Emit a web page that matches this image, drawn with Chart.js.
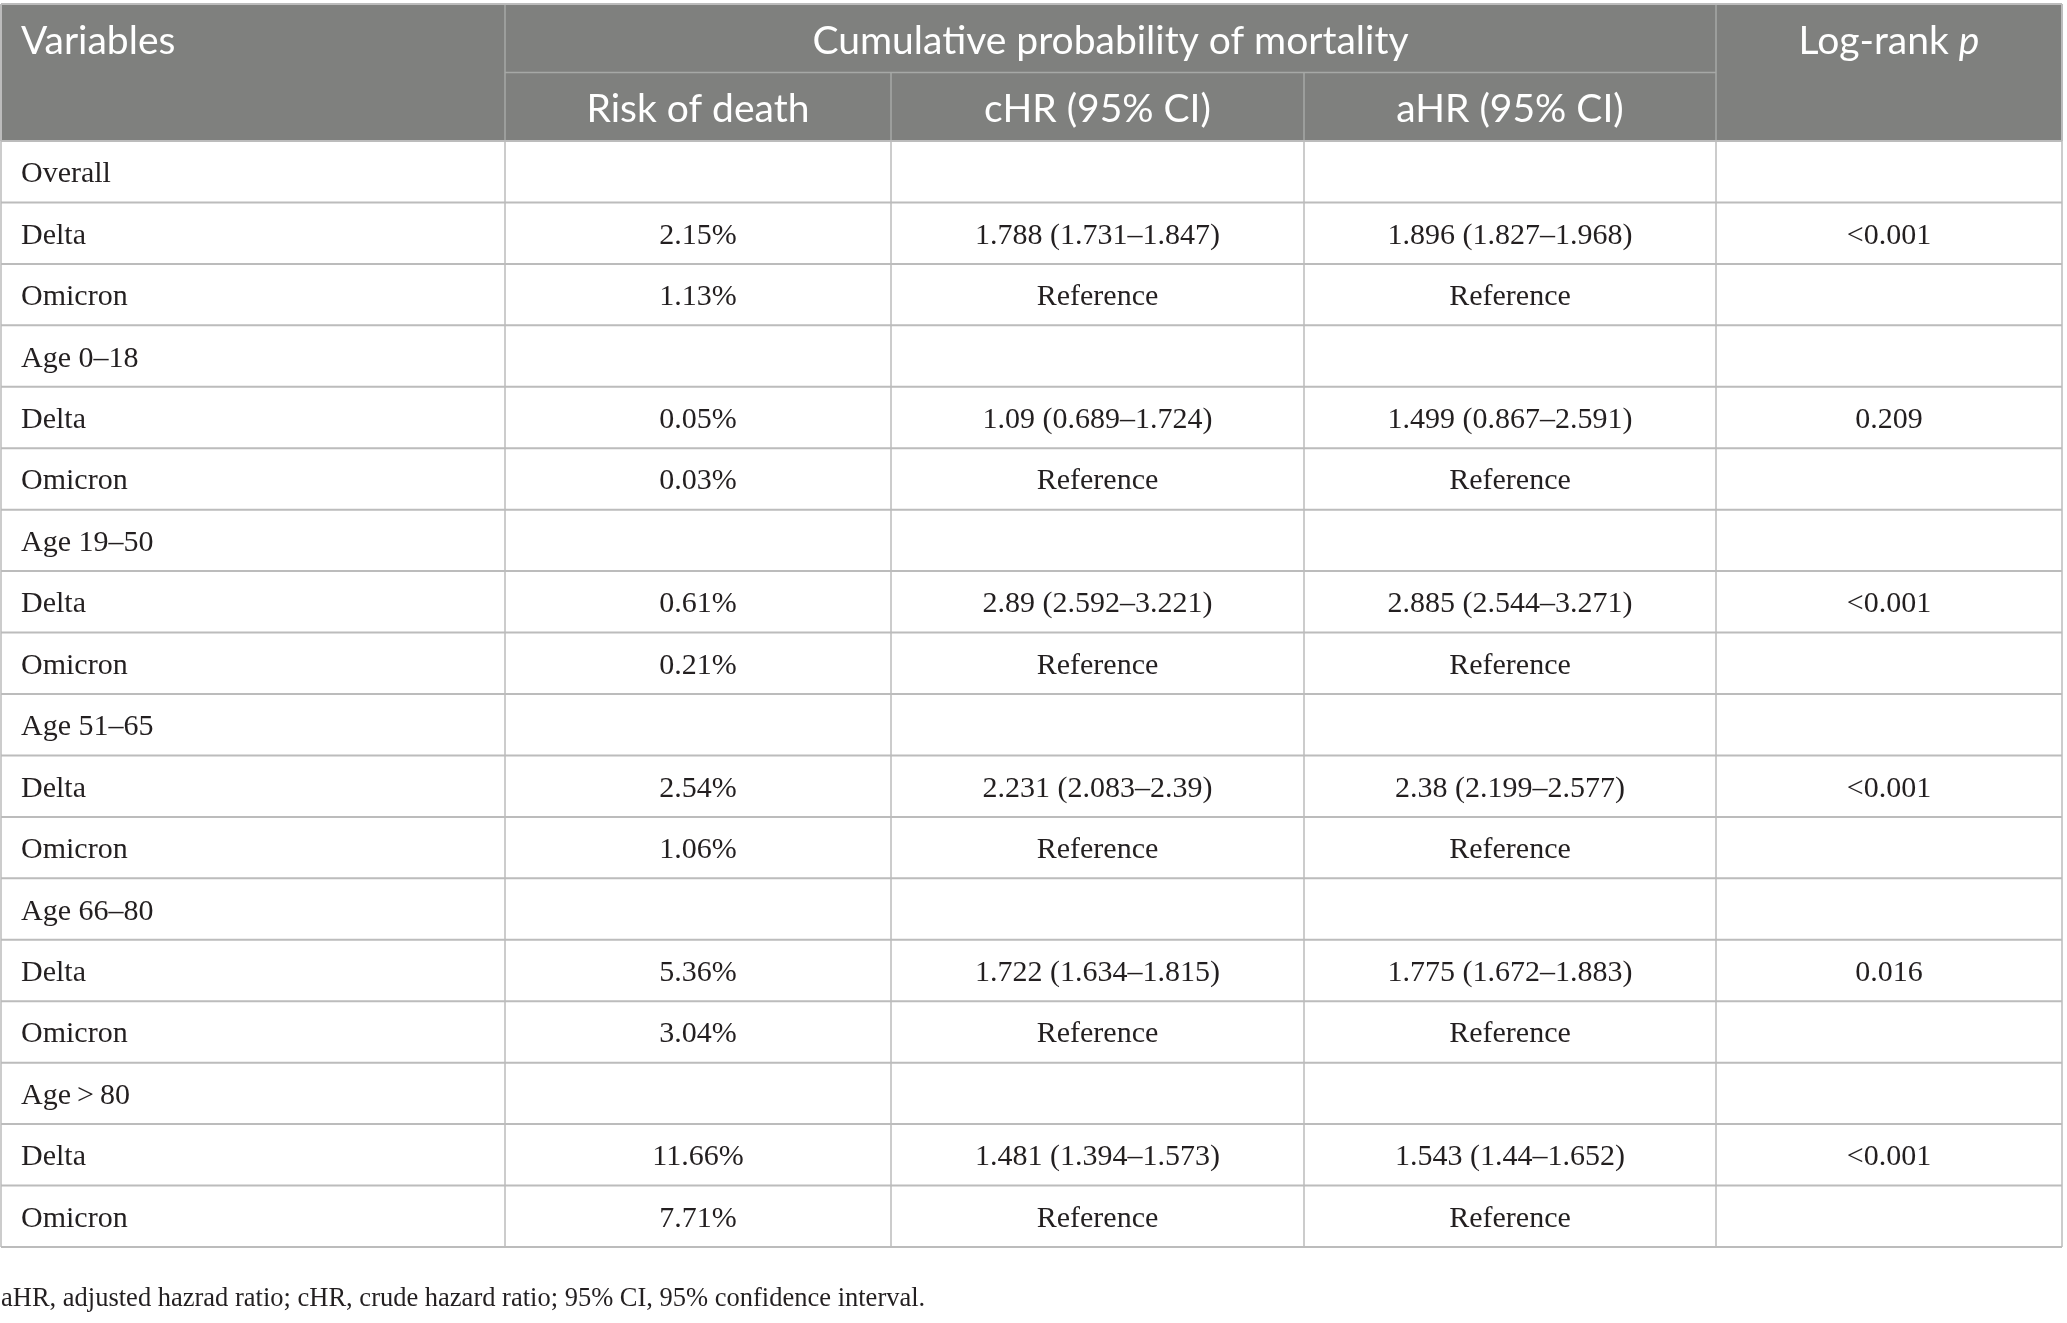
<!DOCTYPE html>
<html>
<head>
<meta charset="utf-8">
<title>Cumulative probability of mortality</title>
<script src="https://cdn.jsdelivr.net/npm/chart.js@4.4.1/dist/chart.umd.min.js"></script>
<style>
  html, body { margin: 0; padding: 0; background: #fff; }
  canvas { display: block; }
</style>
</head>
<body>
<canvas id="mortalityTable" width="2067" height="1323"></canvas>
<script>
// Table values
const groups = ['Overall', 'Age 0–18', 'Age 19–50', 'Age 51–65', 'Age 66–80', 'Age\u2009>\u200980'];
const variants = ['Delta', 'Omicron'];
const riskDelta = [2.15, 0.05, 0.61, 2.54, 5.36, 11.66];
const riskOmicron = [1.13, 0.03, 0.21, 1.06, 3.04, 7.71];
const cHR = [1.788, 1.09, 2.89, 2.231, 1.722, 1.481];
const cHRLow = [1.731, 0.689, 2.592, 2.083, 1.634, 1.394];
const cHRHigh = [1.847, 1.724, 3.221, 2.39, 1.815, 1.573];
const aHR = [1.896, 1.499, 2.885, 2.38, 1.775, 1.543];
const aHRLow = [1.827, 0.867, 2.544, 2.199, 1.672, 1.44];
const aHRHigh = [1.968, 2.591, 3.271, 2.577, 1.883, 1.652];
const logRankP = ['<0.001', '0.209', '<0.001', '<0.001', '0.016', '<0.001'];
const headerTop = ['Variables', 'Cumulative probability of mortality', 'Log-rank '];
const headerSub = ['Risk of death', 'cHR (95% CI)', 'aHR (95% CI)'];
const footnote = 'aHR, adjusted hazrad ratio; cHR, crude hazard ratio; 95% CI, 95% confidence interval.';

// Layout (column widths and row heights as scale units)
const colWidths = [504, 386, 413, 412, 346];
const headerRowWeight = 1.115;
const colEdges = colWidths.reduce((acc, w) => [...acc, acc[acc.length - 1] + w], [0]);

const pct = v => v.toFixed(2) + '%';
const hr = (v, lo, hi) => `${v} (${lo}–${hi})`;

// Build body rows from the arrays above
const bodyRows = [];
groups.forEach((g, i) => {
    bodyRows.push([g, '', '', '', '']);
    bodyRows.push([variants[0], pct(riskDelta[i]), hr(cHR[i], cHRLow[i], cHRHigh[i]), hr(aHR[i], aHRLow[i], aHRHigh[i]), logRankP[i]]);
    bodyRows.push([variants[1], pct(riskOmicron[i]), 'Reference', 'Reference', '']);
});

const rowWeights = [headerRowWeight, headerRowWeight, ...bodyRows.map(() => 1)];
const rowEdges = rowWeights.reduce((acc, w) => [...acc, acc[acc.length - 1] + w], [0]);

// One scatter dataset per column, one (invisible) point per cell
const datasets = colWidths.map((w, c) => ({
    label: 'col' + c,
    align: c === 0 ? 'left' : 'center',
    pointRadius: 0,
    data: bodyRows.map((row, r) => ({
        x: (colEdges[c] + colEdges[c + 1]) / 2,
        y: (rowEdges[r + 2] + rowEdges[r + 3]) / 2,
        text: row[c]
    }))
}));

const HEADER_BG = '#7f807e';
const HEADER_LINE = '#a6a8a6';
const BODY_LINE = '#bcbcbc';
const BODY_TEXT = '#231f20';
const SANS = 'Lato, "Noto Sans", sans-serif';
const SERIF = '"Liberation Serif", "DejaVu Serif", serif';
const HEAD_SIZE = 39;

const tablePlugin = {
    id: 'tablePlugin',
    beforeDatasetsDraw(chart) {
        const { ctx, scales: { x, y } } = chart;
        const px = v => x.getPixelForValue(v);
        const py = v => y.getPixelForValue(v);
        const left = px(0), right = px(colEdges[colEdges.length - 1]);
        const top = py(0), headBottom = py(rowEdges[2]), bottom = py(rowEdges[rowEdges.length - 1]);

        ctx.save();
        ctx.fillStyle = HEADER_BG;
        ctx.fillRect(left, top, right - left, headBottom - top);

        // header grid
        ctx.strokeStyle = HEADER_LINE;
        ctx.lineWidth = 1.5;
        ctx.beginPath();
        [1, 4].forEach(c => { ctx.moveTo(px(colEdges[c]), top); ctx.lineTo(px(colEdges[c]), headBottom); });
        [2, 3].forEach(c => { ctx.moveTo(px(colEdges[c]), py(rowEdges[1])); ctx.lineTo(px(colEdges[c]), headBottom); });
        ctx.moveTo(px(colEdges[1]), py(rowEdges[1]));
        ctx.lineTo(px(colEdges[4]), py(rowEdges[1]));
        ctx.stroke();

        // body grid
        ctx.strokeStyle = BODY_LINE;
        ctx.lineWidth = 1.5;
        ctx.beginPath();
        colEdges.forEach(e => { ctx.moveTo(px(e), headBottom); ctx.lineTo(px(e), bottom); });
        ctx.stroke();
        ctx.lineWidth = 2;
        ctx.beginPath();
        rowEdges.slice(2).forEach(e => { ctx.moveTo(left, py(e)); ctx.lineTo(right, py(e)); });
        ctx.stroke();

        // outer frame of the header
        ctx.beginPath();
        ctx.moveTo(left, top); ctx.lineTo(right, top);
        ctx.moveTo(left, top); ctx.lineTo(left, headBottom);
        ctx.moveTo(right, top); ctx.lineTo(right, headBottom);
        ctx.stroke();

        // header text
        ctx.fillStyle = '#ffffff';
        ctx.font = `${HEAD_SIZE}px ${SANS}`;
        ctx.textBaseline = 'alphabetic';
        const row0 = (py(rowEdges[0]) + py(rowEdges[1])) / 2 + 15.5;
        const row1 = (py(rowEdges[1]) + py(rowEdges[2])) / 2 + 15;
        ctx.textAlign = 'left';
        ctx.fillText(headerTop[0], left + 20, row0);
        ctx.textAlign = 'center';
        ctx.fillText(headerTop[1], (px(colEdges[1]) + px(colEdges[4])) / 2, row0);
        headerSub.forEach((t, i) => {
            ctx.fillText(t, (px(colEdges[i + 1]) + px(colEdges[i + 2])) / 2, row1);
        });
        // "Log-rank p" with italic p
        const w1 = ctx.measureText(headerTop[2]).width;
        ctx.font = `italic ${HEAD_SIZE}px ${SANS}`;
        const w2 = ctx.measureText('p').width;
        const start = (px(colEdges[4]) + px(colEdges[5])) / 2 - (w1 + w2) / 2;
        ctx.textAlign = 'left';
        ctx.fillText('p', start + w1, row0);
        ctx.font = `${HEAD_SIZE}px ${SANS}`;
        ctx.fillText(headerTop[2], start, row0);
        ctx.restore();
    },
    afterDatasetsDraw(chart) {
        const { ctx, scales: { x } } = chart;
        ctx.save();
        ctx.fillStyle = BODY_TEXT;
        ctx.font = `30px ${SERIF}`;
        ctx.textBaseline = 'alphabetic';
        chart.data.datasets.forEach((ds, c) => {
            const meta = chart.getDatasetMeta(c);
            ctx.textAlign = ds.align;
            meta.data.forEach((pt, i) => {
                const t = ds.data[i].text;
                if (!t) return;
                const tx = ds.align === 'left' ? x.getPixelForValue(colEdges[c]) + 20 : pt.x;
                ctx.fillText(t, tx, pt.y + 10.5);
            });
        });
        ctx.restore();
    }
};

new Chart(document.getElementById('mortalityTable'), {
    type: 'scatter',
    data: { datasets },
    options: {
        responsive: false,
        animation: false,
        devicePixelRatio: 1,
        events: [],
        layout: { padding: { left: 1, right: 5, top: 4, bottom: 0 } },
        scales: {
            x: { type: 'linear', display: false, min: 0, max: colEdges[colEdges.length - 1] },
            y: { type: 'linear', display: false, reverse: true, min: 0, max: rowEdges[rowEdges.length - 1] }
        },
        plugins: {
            legend: { display: false },
            tooltip: { enabled: false },
            title: {
                display: true,
                position: 'bottom',
                align: 'start',
                text: footnote,
                color: BODY_TEXT,
                font: { family: SERIF, size: 26.5, weight: 'normal' },
                padding: { top: 36, bottom: 8.2 }
            }
        }
    },
    plugins: [tablePlugin]
});
</script>
</body>
</html>
